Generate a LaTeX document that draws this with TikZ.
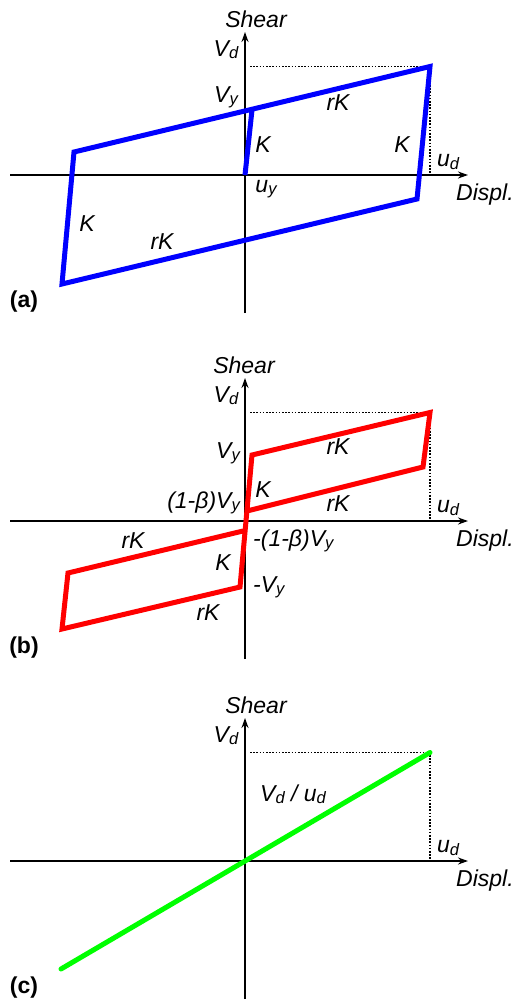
\documentclass[tikz,border=0pt]{standalone}
\usepackage{fontspec}
\setmainfont{Liberation Sans}
\usetikzlibrary{arrows.meta}
\definecolor{loopblue}{HTML}{0000FF}
\definecolor{loopred}{HTML}{FF0000}
\definecolor{loopgreen}{HTML}{00FF00}
\newcommand{\lo}[1]{\raisebox{-0.1em}{\fontsize{16.5}{16.5}\selectfont #1}}
\tikzset{
  axis/.style={
    -{Stealth[length=10pt,width=7pt]},
    line width=2.8pt,
    draw=black
  },
  guide/.style={
    line width=1.6pt,
    dash pattern=on 1.6pt off 1.6pt
  },
  branch/.style={
    line width=5pt,
    miter limit=20
  },
  lbl/.style={
    font=\fontsize{23}{26}\selectfont\itshape,
    inner sep=1pt
  },
  tag/.style={
    font=\fontsize{23}{26}\selectfont\bfseries,
    inner sep=1pt
  }
}

\begin{document}
\begin{tikzpicture}[x=1pt,y=-1pt]
  \useasboundingbox (0,0) rectangle (513,1002);

  % axes, peak guides and common labels
  \foreach \tag/\oy/\sx in {a/175/256, b/521/244, c/861/256} {
    \coordinate (o-\tag) at (245,\oy);
    \coordinate (xl-\tag) at (10,\oy);
    \coordinate (xr-\tag) at (468,\oy);
    \coordinate (yt-\tag) at (245,\oy-143);
    \coordinate (yb-\tag) at (245,\oy+138);
    \coordinate (pk-\tag) at (430,\oy-108.5);
    \coordinate (vd-\tag) at (250,\oy-108.5);
    \coordinate (ud-\tag) at (430,\oy);
    \draw[axis] (xl-\tag) -- (xr-\tag);
    \draw[axis] (yb-\tag) -- (yt-\tag);
    \draw[guide] (vd-\tag) -- (pk-\tag) -- (ud-\tag);
    \node[lbl] (shear-\tag) at (\sx,\oy-156) {Shear};
    \node[lbl] (displ-\tag) at (485,\oy+20) {Displ.};
    \node[lbl] (vdl-\tag) at (226,\oy-125) {V\lo{d}};
    \node[lbl] (udl-\tag) at (448,\oy-13) {u\lo{d}};
    \node[tag] (name-\tag) at (24,\oy+127) {(\tag)};
  }

  % (a) bilinear loop
  \coordinate (a2) at (417,199);
  \coordinate (a3) at (62,284);
  \coordinate (a4) at (74,152);
  \coordinate (ay) at (252,110);
  \draw[branch, loopblue] (pk-a) -- (a2) -- (a3) -- (a4) -- cycle;
  \draw[branch, loopblue] (o-a) -- (ay);
  \node[lbl] (vy-a) at (226,97) {V\lo{y}};
  \node[lbl] (uy-a) at (266,189) {u\lo{y}};
  \node[lbl] (rk-a1) at (338,103) {rK};
  \node[lbl] (k-a1) at (263,145) {K};
  \node[lbl] (k-a2) at (402,145) {K};
  \node[lbl] (k-a3) at (87,224) {K};
  \node[lbl] (rk-a2) at (162,242) {rK};

  % (b) flag-shaped loop
  \coordinate (b1) at (243,531);
  \coordinate (b2) at (68,573);
  \coordinate (b3) at (62,629);
  \coordinate (b4) at (240,587);
  \coordinate (b5) at (252,455);
  \coordinate (b6) at (423,467);
  \coordinate (b7) at (247,511);
  \draw[branch, loopred] (b1) -- (b2) -- (b3) -- (b4) -- (b5) -- (pk-b)
    -- (b6) -- (b7);
  \node[lbl] (vy-b) at (228,453) {V\lo{y}};
  \node[lbl] (rk-b1) at (338,447) {rK};
  \node[lbl] (k-b1) at (263,490) {K};
  \node[lbl, anchor=east] (cy-b) at (241,503) {(1-β)V\lo{y}};
  \node[lbl] (rk-b2) at (338,504) {rK};
  \node[lbl] (rk-b3) at (133,541) {rK};
  \node[lbl, anchor=west] (ncy-b) at (252,541) {-(1-β)V\lo{y}};
  \node[lbl] (k-b2) at (223,563) {K};
  \node[lbl, anchor=west] (nvy-b) at (252,587) {-V\lo{y}};
  \node[lbl] (rk-b4) at (208,613) {rK};

  % (c) linear secant
  \coordinate (c1) at (61,969);
  \draw[branch, loopgreen, line cap=round] (c1) -- (pk-c);
  \node[lbl] (slope-c) at (293,794) {V\lo{d} / u\lo{d}};
\end{tikzpicture}
\end{document}
